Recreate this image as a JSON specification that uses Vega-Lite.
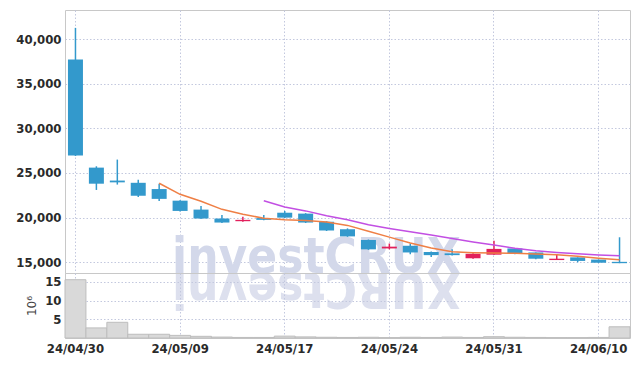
{
  "$schema": "https://vega.github.io/schema/vega-lite/v6.json",
  "background": "white",
  "padding": {"left": 15, "top": 9, "right": 8, "bottom": 5},
  "spacing": 0,
  "bounds": "flush",
  "datasets": {
    "k": [
      {"d": "24/04/30", "o": 37700, "h": 41250, "l": 26900, "c": 26950, "v": 15.6, "dir": "down", "ma5": null, "ma10": null},
      {"d": "24/05/02", "o": 25600, "h": 25750, "l": 23100, "c": 23800, "v": 2.7, "dir": "down", "ma5": null, "ma10": null},
      {"d": "24/05/03", "o": 24150, "h": 26500, "l": 23700, "c": 23950, "v": 4.2, "dir": "down", "ma5": null, "ma10": null},
      {"d": "24/05/07", "o": 23900, "h": 24250, "l": 22300, "c": 22450, "v": 1.0, "dir": "down", "ma5": null, "ma10": null},
      {"d": "24/05/08", "o": 23200, "h": 23800, "l": 21850, "c": 22100, "v": 1.0, "dir": "down", "ma5": 23850, "ma10": null},
      {"d": "24/05/09", "o": 21900, "h": 21950, "l": 20700, "c": 20750, "v": 0.7, "dir": "down", "ma5": 22610, "ma10": null},
      {"d": "24/05/10", "o": 20900, "h": 21300, "l": 19850, "c": 19900, "v": 0.45, "dir": "down", "ma5": 21830, "ma10": null},
      {"d": "24/05/13", "o": 19900, "h": 20300, "l": 19400, "c": 19450, "v": 0.25, "dir": "down", "ma5": 20930, "ma10": null},
      {"d": "24/05/14", "o": 19600, "h": 20100, "l": 19550, "c": 19750, "v": 0.15, "dir": "up", "ma5": 20390, "ma10": null},
      {"d": "24/05/16", "o": 19950, "h": 20300, "l": 19700, "c": 19750, "v": 0.15, "dir": "down", "ma5": 19920, "ma10": 21885},
      {"d": "24/05/17", "o": 20550, "h": 20750, "l": 19950, "c": 20000, "v": 0.5, "dir": "down", "ma5": 19770, "ma10": 21190},
      {"d": "24/05/20", "o": 20450, "h": 20500, "l": 19400, "c": 19450, "v": 0.3, "dir": "down", "ma5": 19680, "ma10": 20755},
      {"d": "24/05/21", "o": 19550, "h": 19600, "l": 18500, "c": 18550, "v": 0.2, "dir": "down", "ma5": 19500, "ma10": 20215},
      {"d": "24/05/22", "o": 18700, "h": 18800, "l": 17850, "c": 17900, "v": 0.15, "dir": "down", "ma5": 19130, "ma10": 19760},
      {"d": "24/05/23", "o": 17500, "h": 17550, "l": 16400, "c": 16450, "v": 0.2, "dir": "down", "ma5": 18470, "ma10": 19195},
      {"d": "24/05/24", "o": 16550, "h": 17100, "l": 16450, "c": 16750, "v": 0.1, "dir": "up", "ma5": 17820, "ma10": 18795},
      {"d": "24/05/27", "o": 16850, "h": 17100, "l": 15900, "c": 16100, "v": 0.2, "dir": "down", "ma5": 17150, "ma10": 18415},
      {"d": "24/05/28", "o": 16150, "h": 16200, "l": 15600, "c": 15800, "v": 0.15, "dir": "down", "ma5": 16600, "ma10": 18050},
      {"d": "24/05/29", "o": 16000, "h": 16450, "l": 15750, "c": 15800, "v": 0.25, "dir": "down", "ma5": 16180, "ma10": 17655},
      {"d": "24/05/30", "o": 15450, "h": 16000, "l": 15400, "c": 15950, "v": 0.15, "dir": "up", "ma5": 16080, "ma10": 17275},
      {"d": "24/05/31", "o": 15850, "h": 17400, "l": 15850, "c": 16500, "v": 0.35, "dir": "up", "ma5": 16030, "ma10": 16925},
      {"d": "24/06/03", "o": 16550, "h": 16550, "l": 15900, "c": 15950, "v": 0.2, "dir": "down", "ma5": 16000, "ma10": 16575},
      {"d": "24/06/04", "o": 16100, "h": 16100, "l": 15350, "c": 15400, "v": 0.15, "dir": "down", "ma5": 15920, "ma10": 16300},
      {"d": "24/06/05", "o": 15250, "h": 15900, "l": 15250, "c": 15400, "v": 0.1, "dir": "up", "ma5": 15840, "ma10": 16100},
      {"d": "24/06/07", "o": 15550, "h": 15550, "l": 15000, "c": 15150, "v": 0.1, "dir": "down", "ma5": 15680, "ma10": 15950},
      {"d": "24/06/10", "o": 15300, "h": 15300, "l": 14950, "c": 14950, "v": 0.15, "dir": "down", "ma5": 15450, "ma10": 15820},
      {"d": "24/06/11", "o": 15050, "h": 17800, "l": 14900, "c": 14900, "v": 3.0, "dir": "down", "ma5": 15270, "ma10": 15720}
    ]
  },
  "config": {
    "view": {"stroke": "#c8c8c8"},
    "axis": {
      "labelFont": "DejaVu Sans Condensed",
      "labelFontWeight": "bold",
      "labelFontSize": 13,
      "labelColor": "#2a2a2a",
      "ticks": false,
      "domain": false,
      "gridColor": "#c3c8de",
      "gridDash": [1.5, 2],
      "gridWidth": 1
    }
  },
  "vconcat": [
    {
      "width": 565,
      "height": 263,
      "data": {"name": "k"},
      "encoding": {
        "x": {
          "field": "d",
          "type": "ordinal",
          "scale": {"paddingInner": 0, "paddingOuter": 0},
          "axis": {"values": ["24/04/30", "24/05/09", "24/05/17", "24/05/24", "24/05/31", "24/06/10"], "labels": false, "title": null, "grid": true, "minExtent": 0, "maxExtent": 0, "labelPadding": 0}
        }
      },
      "layer": [
        {
          "data": {"values": [{"t": "investCRUX"}]},
          "mark": {"type": "text", "font": "DejaVu Sans Condensed", "fontWeight": "bold", "fontSize": 49, "fill": "#d3d8ea", "align": "left", "baseline": "alphabetic", "dx": -8},
          "encoding": {
            "x": {"datum": "24/05/09", "type": "ordinal"},
            "y": {"datum": 13850, "type": "quantitative"},
            "text": {"field": "t"}
          }
        },
        {
          "data": {"values": [{"t": "XURCtsevni"}]},
          "mark": {"type": "text", "font": "DejaVu Sans Condensed", "fontWeight": "bold", "fontSize": 49, "fill": "#dde0ee", "align": "right", "baseline": "alphabetic", "angle": 180, "dx": 8},
          "encoding": {
            "x": {"datum": "24/05/09", "type": "ordinal"},
            "y": {"datum": 13850, "type": "quantitative"},
            "text": {"field": "t"}
          }
        },
        {
          "mark": {"type": "rule", "strokeWidth": 1.5},
          "encoding": {
            "y": {
              "field": "l",
              "type": "quantitative",
              "scale": {"domain": [13800, 43250], "nice": false, "zero": false},
              "axis": {"values": [15000, 20000, 25000, 30000, 35000, 40000], "labelExpr": "format(datum.value, ',d')", "title": null, "labelPadding": 4, "grid": true}
            },
            "y2": {"field": "h"},
            "color": {"field": "dir", "type": "nominal", "scale": {"domain": ["up", "down"], "range": ["#e2205c", "#3399cc"]}, "legend": null}
          }
        },
        {
          "mark": {"type": "bar", "size": 15},
          "encoding": {
            "y": {"field": "o", "type": "quantitative"},
            "y2": {"field": "c"},
            "color": {"field": "dir", "type": "nominal", "legend": null}
          }
        },
        {
          "mark": {"type": "line", "color": "#ef7f45", "strokeWidth": 1.5},
          "encoding": {"y": {"field": "ma5", "type": "quantitative"}}
        },
        {
          "mark": {"type": "line", "color": "#c24fe3", "strokeWidth": 1.5},
          "encoding": {"y": {"field": "ma10", "type": "quantitative"}}
        }
      ]
    },
    {
      "width": 565,
      "height": 65,
      "data": {"name": "k"},
      "mark": {"type": "bar", "fill": "#d9d9d9", "stroke": "#bdbdbd", "strokeWidth": 1},
      "encoding": {
        "x": {
          "field": "d",
          "type": "ordinal",
          "scale": {"paddingInner": 0, "paddingOuter": 0},
          "axis": {"values": ["24/04/30", "24/05/09", "24/05/17", "24/05/24", "24/05/31", "24/06/10"], "labelAngle": 0, "labelPadding": 4, "title": null, "grid": true}
        },
        "y": {
          "field": "v",
          "type": "quantitative",
          "scale": {"domain": [0, 17.4], "nice": false},
          "axis": {"values": [5, 10, 15], "labelExpr": "format(datum.value, 'd')", "title": "10⁶", "titleFont": "DejaVu Sans", "titleFontWeight": "normal", "titleFontSize": 12, "titleColor": "#444", "titlePadding": 6, "labelPadding": 4, "grid": true}
        }
      }
    }
  ]
}
